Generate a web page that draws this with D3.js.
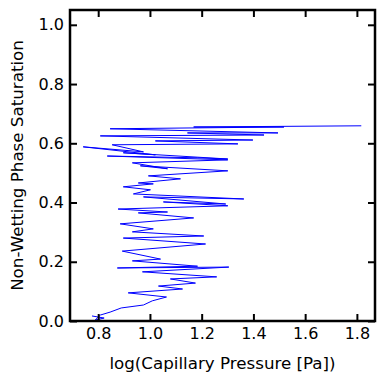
<!DOCTYPE html>
<html>
<head>
<meta charset="utf-8">
<script src="https://cdn.jsdelivr.net/npm/d3@7"></script>
<style>
	body { margin: 0; background: #fff; }
	text { font-family: "DejaVu Sans", sans-serif; }
</style>
</head>
<body>
<svg width="384" height="383"></svg>
<script>
// log capillary pressure (x) and non-wetting saturation (y)
var pressure = [0.776, 0.823, 0.788, 0.808, 0.846, 0.889, 0.975, 1.009, 1.064, 0.916,
	1.126, 1.033, 1.176, 1.079, 1.258, 0.971, 1.305, 0.874, 1.184, 0.932,
	1.041, 0.893, 1.215, 0.897, 1.208, 0.932, 1.013, 0.885, 1.169, 0.955,
	1.068, 0.877, 1.301, 1.052, 1.293, 0.975, 1.363, 0.936, 1.002, 0.897,
	1.013, 0.955, 1.118, 0.994, 1.301, 0.963, 1.068, 0.932, 1.301, 0.835,
	1.184, 1.301, 0.897, 1.021, 0.742, 0.975, 0.854, 1.340, 1.021, 1.398,
	0.808, 1.441, 1.145, 1.495, 0.846, 1.518, 1.169, 1.817];
var saturation = [0.017, 0.010, 0.003, 0.020, 0.030, 0.044, 0.054, 0.068, 0.081, 0.095,
	0.108, 0.118, 0.128, 0.142, 0.149, 0.166, 0.182, 0.179, 0.185, 0.203,
	0.209, 0.236, 0.260, 0.280, 0.287, 0.301, 0.311, 0.328, 0.348, 0.365,
	0.368, 0.378, 0.389, 0.402, 0.395, 0.419, 0.412, 0.429, 0.443, 0.453,
	0.463, 0.466, 0.480, 0.490, 0.507, 0.524, 0.514, 0.534, 0.544, 0.557,
	0.551, 0.547, 0.568, 0.561, 0.588, 0.571, 0.595, 0.598, 0.608, 0.611,
	0.625, 0.628, 0.635, 0.635, 0.649, 0.655, 0.655, 0.659];

var xTicks = [0.8, 1.0, 1.2, 1.4, 1.6, 1.8];
var yTicks = [0.0, 0.2, 0.4, 0.6, 0.8, 1.0];

var svg = d3.select("svg"),
	margin = {top: 10, right: 9, bottom: 62, left: 70},
	width = +svg.attr("width") - margin.left - margin.right,
	height = +svg.attr("height") - margin.top - margin.bottom;

var g = svg.append("g")
	.attr("transform", "translate(" + margin.left + "," + margin.top + ")");

var x = d3.scaleLinear()
	.domain([0.691, 1.870])
	.range([0, width]);

var y = d3.scaleLinear()
	.domain([0, 1.05])
	.range([height, 0]);

var data = pressure.map(function(p, i) { return {p: p, s: saturation[i]}; });

var line = d3.line()
	.x(function(d) { return x(d.p); })
	.y(function(d) { return y(d.s); });

g.append("path")
	.datum(data)
	.attr("fill", "none")
	.attr("stroke", "#0000ff")
	.attr("stroke-width", 1)
	.attr("d", line);

var fmt = d3.format(".1f");

// ticks point inward on all four sides
g.append("g")
	.attr("transform", "translate(0," + height + ")")
	.call(d3.axisBottom(x).tickValues(xTicks).tickFormat(fmt).tickSize(-7).tickPadding(7));
g.append("g")
	.call(d3.axisTop(x).tickValues(xTicks).tickFormat("").tickSize(-7));
g.append("g")
	.call(d3.axisLeft(y).tickValues(yTicks).tickFormat(fmt).tickSize(-7).tickPadding(6));
g.append("g")
	.attr("transform", "translate(" + width + ",0)")
	.call(d3.axisRight(y).tickValues(yTicks).tickFormat("").tickSize(-7));

g.selectAll(".domain").remove();
g.selectAll(".tick line").attr("stroke", "#000").attr("stroke-width", 2);
g.selectAll(".tick text")
	.attr("fill", "#000")
	.style("font-size", "16px");

g.append("rect")
	.attr("width", width)
	.attr("height", height)
	.attr("fill", "none")
	.attr("stroke", "#000")
	.attr("stroke-width", 2.5);

svg.append("text")
	.attr("x", margin.left + width / 2)
	.attr("y", 369)
	.attr("text-anchor", "middle")
	.style("font-size", "16.7px")
	.text("log(Capillary Pressure [Pa])");

svg.append("text")
	.attr("transform", "translate(23," + (margin.top + height / 2) + ") rotate(-90)")
	.attr("text-anchor", "middle")
	.style("font-size", "16.7px")
	.text("Non-Wetting Phase Saturation");
</script>
</body>
</html>
